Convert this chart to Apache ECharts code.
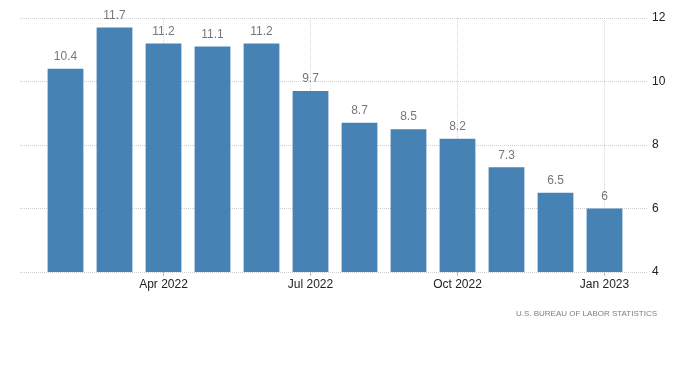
<!DOCTYPE html>
<html><head><meta charset="utf-8">
<script src="https://cdn.jsdelivr.net/npm/echarts@6/dist/echarts.min.js"></script>
<style>html,body{margin:0;padding:0;background:#fff}#c{width:700px;height:372px}</style>
</head><body><div id="c"></div>
<script>
const categories = ['Feb 2022','Mar 2022','Apr 2022','May 2022','Jun 2022','Jul 2022','Aug 2022','Sep 2022','Oct 2022','Nov 2022','Dec 2022','Jan 2023'];
const values = [10.4, 11.7, 11.2, 11.1, 11.2, 9.7, 8.7, 8.5, 8.2, 7.3, 6.5, 6];
const yTicks = [4, 6, 8, 10, 12];
const sourceText = 'U.S. BUREAU OF LABOR STATISTICS';

const chart = echarts.init(document.getElementById('c'), null, {renderer: 'canvas'});
const showIdx = (i) => i % 3 === 2;
chart.setOption({
  animation: false,
  title: {
    text: sourceText, right: 38, top: 305,
    textStyle: {fontSize: 8, color: '#7d7d7d', fontWeight: 'normal', fontFamily: 'Liberation Sans'}
  },
  grid: [
    {left: 20, right: 53, top: 18, bottom: 100},
    {left: 41, right: 71, top: 18, bottom: 100}
  ],
  xAxis: [
    {gridIndex: 0, type: 'category', data: categories, show: false},
    {gridIndex: 1, type: 'category', data: categories,
     axisLine: {show: false},
     axisTick: {show: true, alignWithLabel: true, interval: (i) => showIdx(i), length: 4, lineStyle: {color: '#bbb'}},
     axisLabel: {interval: (i) => showIdx(i), color: '#222', fontSize: 12, margin: 7, fontFamily: 'Liberation Sans'},
     splitLine: {show: true, alignWithLabel: true, interval: (i) => showIdx(i), lineStyle: {color: '#d6d6d6', type: [1, 1], width: 1}}
    }
  ],
  yAxis: [
    {gridIndex: 0, type: 'value', position: 'right', min: 4, max: 12, interval: 2,
     axisLine: {show: false}, axisTick: {show: false},
     axisLabel: {color: '#222', fontSize: 12, margin: 5, fontFamily: 'Liberation Sans',
       formatter: (v) => yTicks.includes(v) ? String(v) : ''},
     splitLine: {show: true, lineStyle: {color: '#cfcfcf', type: [1, 1], width: 1}}
    },
    {gridIndex: 1, type: 'value', min: 4, max: 12, interval: 2, show: false}
  ],
  series: [{
    type: 'bar', xAxisIndex: 1, yAxisIndex: 1, data: values,
    barCategoryGap: '27%',
    itemStyle: {color: '#4682b4'},
    label: {show: true, position: 'top', distance: 6, color: '#777', fontSize: 12, fontFamily: 'Liberation Sans'}
  }]
});
</script></body></html>
